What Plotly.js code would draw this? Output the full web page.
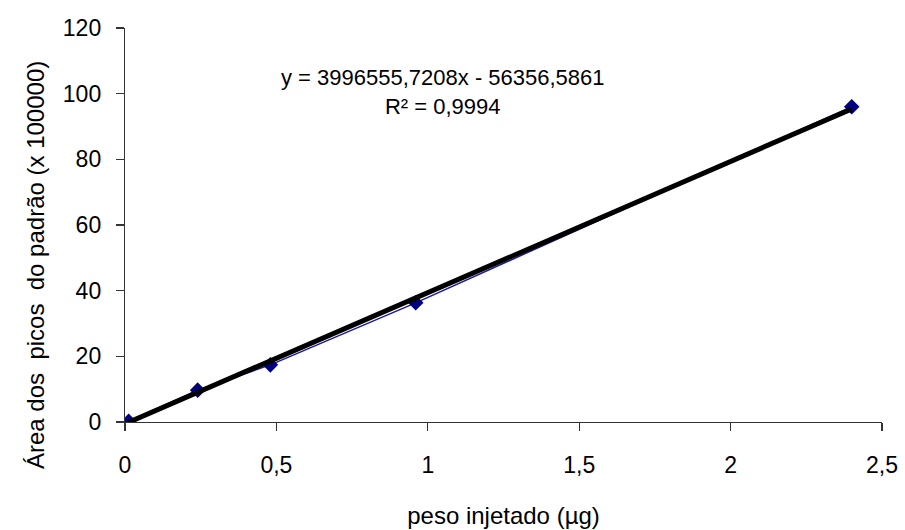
<!DOCTYPE html>
<html>
<head>
<meta charset="utf-8">
<script src="https://cdn.plot.ly/plotly-3.0.1.min.js"></script>
<style>html,body{margin:0;padding:0;background:#fff;}#chart{width:905px;height:530px;}</style>
</head>
<body>
<div id="chart"></div>
<script>
// Data
const pesoInjetado = [0.012, 0.24, 0.48, 0.96, 2.4];          // µg
const areaPicos = [0.2, 9.7, 17.4, 36.3, 96.0];               // x 100000
const xTickVals = [0, 0.5, 1, 1.5, 2, 2.5];
const xTickText = ['0', '0,5', '1', '1,5', '2', '2,5'];
const yTickVals = [0, 20, 40, 60, 80, 100, 120];
const yTickText = ['0', '20', '40', '60', '80', '100', '120'];
// Trendline coefficients as printed on the chart (converted to units of 100000)
const trendSlope = [3996555.7208 / 100000];
const trendIntercept = [-56356.5861 / 100000];
const equationText = 'y = 3996555,7208x - 56356,5861';
const r2Text = 'R² = 0,9994';

const xMin = Math.min(...pesoInjetado), xMax = Math.max(...pesoInjetado);
const trendX = [xMin, xMax];
const trendY = trendX.map(v => trendSlope[0] * v + trendIntercept[0]);

const FONT = 'Arial, "Liberation Sans", sans-serif';

const data = [
  {
    x: pesoInjetado, y: areaPicos, type: 'scatter', mode: 'lines+markers',
    line: {color: '#1a1a9a', width: 1.5},
    marker: {symbol: 'diamond', size: 12, color: '#000080'},
    hoverinfo: 'x+y', showlegend: false
  },
  {
    x: trendX, y: trendY, type: 'scatter', mode: 'lines',
    line: {color: '#000000', width: 5},
    showlegend: false
  }
];

const layout = {
  width: 905, height: 530,
  margin: {l: 125, r: 23, t: 28, b: 108, pad: 0},
  paper_bgcolor: '#ffffff', plot_bgcolor: '#ffffff',
  separators: ',.',
  font: {family: FONT, color: '#000000', size: 23},
  showlegend: false,
  xaxis: {
    range: [0, 2.5], tickvals: xTickVals, ticktext: xTickText,
    showgrid: false, zeroline: false, showline: true, linecolor: '#333333', linewidth: 1.2,
    ticks: 'outside', ticklen: 8, tickcolor: '#333333', tickwidth: 1.2,
    ticklabelstandoff: 14,
    tickfont: {family: FONT, size: 23, color: '#000'},
    title: {text: 'peso injetado (µg)', font: {family: FONT, size: 24, color: '#000'}, standoff: 30}
  },
  yaxis: {
    range: [0, 120], tickvals: yTickVals, ticktext: yTickText,
    showgrid: false, zeroline: false, showline: true, linecolor: '#333333', linewidth: 1.2,
    ticks: 'outside', ticklen: 8, tickcolor: '#333333', tickwidth: 1.2,
    ticklabelstandoff: 10,
    tickfont: {family: FONT, size: 23, color: '#000'}
  },
  annotations: [
    {
      text: 'Área dos  picos  do padrão (x 100000)', textangle: -90,
      xref: 'paper', yref: 'paper', x: (35 - 125) / 757, y: (422 - 265) / 394,
      xanchor: 'center', yanchor: 'middle', showarrow: false,
      font: {family: FONT, size: 24, color: '#000'}
    },
    {
      text: equationText + '<br>' + r2Text, xref: 'paper', yref: 'paper',
      x: (443 - 125) / 757, y: (422 - 92) / 394, xanchor: 'center', yanchor: 'middle',
      align: 'center', showarrow: false, font: {family: FONT, size: 22, color: '#000'}
    }
  ]
};

Plotly.newPlot('chart', data, layout, {displayModeBar: false, staticPlot: true});
</script>
</body>
</html>
